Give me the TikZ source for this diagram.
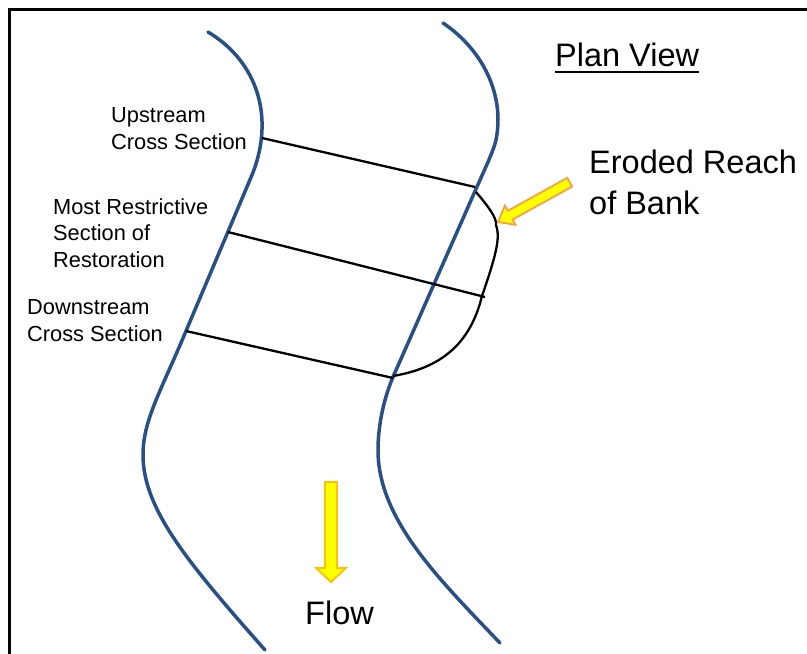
\documentclass[tikz,border=0pt]{standalone}
\usepackage{fontspec}
\setmainfont{Liberation Sans}
\usetikzlibrary{calc}
\definecolor{bankblue}{RGB}{40,80,135}
\definecolor{arrowfill}{RGB}{255,255,0}
\definecolor{flowedge}{RGB}{255,192,0}
\definecolor{erodeedge}{RGB}{248,160,70}
\tikzset{
  bank/.style={draw=bankblue, line width=3.5pt, line cap=round},
  xsec/.style={draw=black, line width=2.3pt},
  erosion/.style={draw=black, line width=2.3pt, line join=round},
  smalllabel/.style={anchor=base west, inner sep=0pt, align=left,
    font=\fontsize{21.8}{26.5}\selectfont},
  biglabel/.style={anchor=base west, inner sep=0pt, align=left,
    font=\fontsize{32.5}{41}\selectfont},
  yellowarrow/.style={fill=arrowfill, line width=1.8pt, line join=miter},
}
\begin{document}
\begin{tikzpicture}[x=1pt, y=-1pt]
\useasboundingbox (0,0) rectangle (807,654);
\fill[white] (0,0) rectangle (807,654);

% frame
\draw[line width=3pt] (9,654) -- (9,9) -- (807,9);

% left bank
\draw[bank] (208,32) .. controls (258,62) and (275,118) .. (252,175)
  -- (186,331)
  .. controls (161,391) and (143,420) .. (143,455)
  .. controls (143,510) and (190,565) .. (265,650);

% right bank
\draw[bank] (443,23) .. controls (483,50) and (505,95) .. (496,140)
  .. controls (494,150) and (482.6,174) .. (476,189)
  -- (393,377)
  .. controls (382,403) and (378,430) .. (378,450)
  .. controls (378,520) and (440,580) .. (500,643);

% eroded reach of bank
\coordinate (e1) at (476,192);
\coordinate (e2) at (496,225);
\coordinate (e3) at (482,296);
\coordinate (e4) at (393,376);
\draw[erosion] (e1) .. controls (488,206) and (497,218) .. (e2)
  .. controls (500,236) and (498,250) .. (e3)
  .. controls (470,345) and (440,368) .. (e4);

% cross sections
\coordinate (u1) at (262,138); \coordinate (u2) at (475,187);
\coordinate (m1) at (228,232); \coordinate (m2) at (485,297);
\coordinate (d1) at (186,331); \coordinate (d2) at (393,378);
\draw[xsec] (u1) -- (u2);
\draw[xsec] (m1) -- (m2);
\draw[xsec] (d1) -- (d2);

% labels (base anchor sits on the last line)
\node[smalllabel] (up) at (111,149) {Upstream\\Cross Section};
\node[smalllabel] (mr) at (53,267) {Most Restrictive\\Section of\\Restoration};
\node[smalllabel] (dn) at (27,341) {Downstream\\Cross Section};
\node[biglabel] (plan) at (555,66) {Plan View};
\draw[line width=2pt] ([yshift=-6pt]plan.base west) -- ([yshift=-6pt]plan.base east);
\node[biglabel] (er) at (589,214) {Eroded Reach\\of Bank};
\node[biglabel] (flow) at (305,624) {Flow};

% arrow pointing at the eroded bank
\draw[yellowarrow, draw=erodeedge]
  (498,222) -- (515.5,224.8) -- (512.6,219.6) -- (572.1,186.6)
  -- (567.3,177.8) -- (507.8,210.8) -- (504.9,205.6) -- cycle;

% flow direction arrow
\draw[yellowarrow, draw=flowedge]
  (325,482) -- (337,482) -- (337,568) -- (346,568) -- (331,582)
  -- (316,568) -- (325,568) -- cycle;
\end{tikzpicture}
\end{document}
